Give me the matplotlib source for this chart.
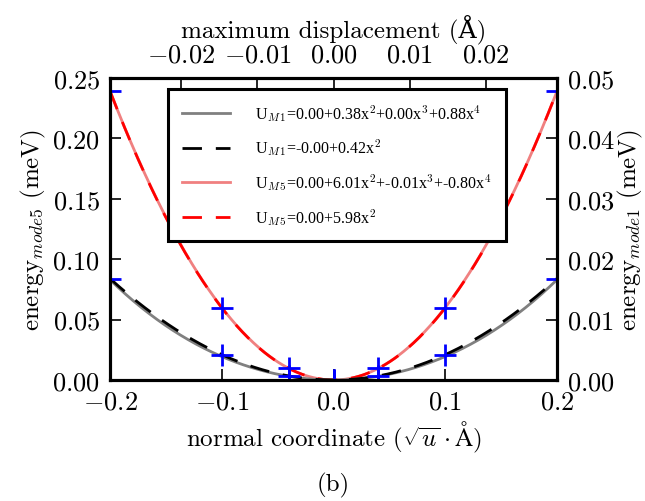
import numpy as np
import matplotlib
matplotlib.use("Agg")
import matplotlib.pyplot as plt

plt.rcParams['font.family'] = ['cmr10', 'DejaVu Serif']
plt.rcParams['mathtext.fontset'] = 'cm'
plt.rcParams['axes.formatter.use_mathtext'] = True
plt.rcParams['axes.unicode_minus'] = True

# data
x_pts = [-0.2, -0.1, -0.04, 0.0, 0.04, 0.1, 0.2]
e_mode5 = [0.239, 0.0598, 0.0096, 0.0, 0.0096, 0.0598, 0.239]
e_mode1 = [0.0167, 0.0042, 0.0007, 0.0, 0.0007, 0.0042, 0.0167]
fit_m1_quartic = [0.00, 0.00, 0.38, 0.00, 0.88]   # c0..c4
fit_m1_harm = [0.00, 0.00, 0.42]
fit_m5_quartic = [0.00, 0.00, 6.01, -0.01, -0.80]
fit_m5_harm = [0.00, 0.00, 5.98]
labels = [r'U$_{M\,1}$=0.00+0.38x$^2$+0.00x$^3$+0.88x$^4$',
          r'U$_{M\,1}$=-0.00+0.42x$^2$',
          r'U$_{M\,5}$=0.00+6.01x$^2$+-0.01x$^3$+-0.80x$^4$',
          r'U$_{M\,5}$=0.00+5.98x$^2$']
bottom_ticks = [-0.2, -0.1, 0.0, 0.1, 0.2]
top_ticks = [-0.02, -0.01, 0.00, 0.01, 0.02]
top_lim = 0.0294
left_ticks = [0.00, 0.05, 0.10, 0.15, 0.20, 0.25]
right_ticks = [0.00, 0.01, 0.02, 0.03, 0.04, 0.05]

def poly(c, x):
    return sum(ci * x**i for i, ci in enumerate(c))

xs = np.linspace(-0.2, 0.2, 400)

fig = plt.figure(figsize=(6.45, 5.02), dpi=100)
ax = fig.add_axes([110/645, 1-381/502, 447/645, 302/502])
ax2 = ax.twinx()
ax3 = ax.twiny()

fs = 19
lfs = 18
lw_sp = 2.2
for a in (ax, ax2, ax3):
    for s in a.spines.values():
        s.set_linewidth(lw_sp)

# mode 5 on left
h3, = ax.plot(xs, poly(fit_m5_quartic, xs), color='#f08080', lw=2, label=labels[2])
h4, = ax.plot(xs, poly(fit_m5_harm, xs), color='red', lw=2, dashes=(7, 5), label=labels[3])
ax.plot(x_pts, e_mode5, ls='none', marker='+', ms=16, mew=2, color='blue')
ax.set_xlim(-0.2, 0.2)
ax.set_ylim(0, 0.25)
ax.set_xticks(bottom_ticks)
ax.set_yticks(left_ticks)
ax.tick_params(axis='both', direction='in', length=8, width=1.2, labelsize=fs, pad=7)
ax.tick_params(axis='x', top=False)
ax.set_ylabel(r'energy$_{mode5}$ (meV)', fontsize=lfs, labelpad=3)
ax.set_xlabel(r'normal coordinate ($\sqrt{u}\cdot\mathrm{\AA}$)', fontsize=lfs, labelpad=4)

# mode 1 on right
h1, = ax2.plot(xs, poly(fit_m1_quartic, xs), color='gray', lw=2, label=labels[0])
h2, = ax2.plot(xs, poly(fit_m1_harm, xs), color='black', lw=2, dashes=(7, 5), label=labels[1])
ax2.plot(x_pts, e_mode1, ls='none', marker='+', ms=16, mew=2, color='blue')
ax2.set_ylim(0, 0.05)
ax2.set_yticks(right_ticks)
ax2.tick_params(axis='y', direction='in', length=8, width=1.2, labelsize=fs, pad=7)
ax2.set_ylabel(r'energy$_{mode1}$ (meV)', fontsize=lfs, labelpad=1)

# top axis
ax3.set_xlim(-top_lim, top_lim)
ax3.set_xticks(top_ticks)
ax3.tick_params(axis='x', direction='in', length=8, width=1.2, labelsize=fs, pad=8)
ax3.set_xlabel('maximum displacement (Å)', fontsize=lfs, labelpad=4)

leg = ax3.legend([h1, h2, h3, h4], labels, loc='upper center',
                 bbox_to_anchor=(0.508, 0.964), borderaxespad=0, labelspacing=0.85,
                 handlelength=3.0, handletextpad=1.6, borderpad=0.85,
                 fancybox=False, framealpha=1, edgecolor='black',
                 prop={'family': ['Liberation Serif'], 'size': 11.5})
leg.get_frame().set_linewidth(2.2)

fig.text(333/645, 1-485/502, '(b)', ha='center', va='center', fontsize=lfs)

fig.savefig('out.png', dpi=100)
